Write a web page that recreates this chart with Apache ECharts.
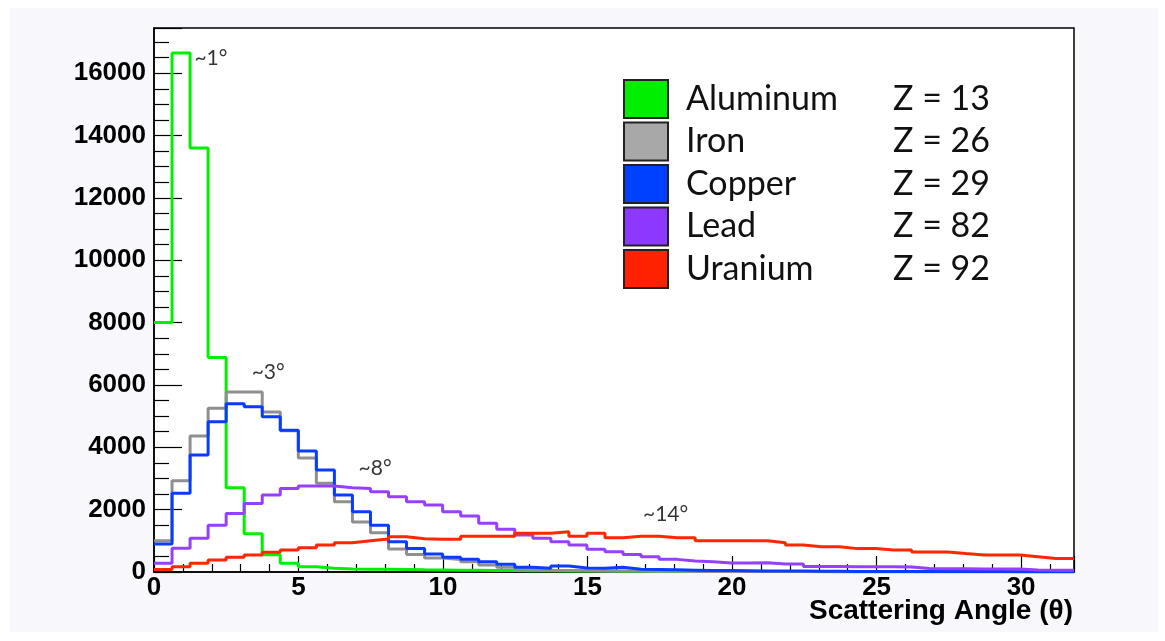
<!DOCTYPE html>
<html>
<head>
<meta charset="utf-8">
<script src="https://cdn.jsdelivr.net/npm/echarts@6/dist/echarts.min.js"></script>
<style>
html,body{margin:0;padding:0;background:#fff;}
#c{width:1165px;height:641px;}
</style>
</head>
<body>
<div id="c"></div>
<script>
// Histogram: 51 bins over 0 .. 31.83 degrees
const xMax = 31.83;
const nBins = 51;
const binWidth = xMax / nBins;

const seriesNames = ['Aluminum', 'Iron', 'Copper', 'Lead', 'Uranium'];
const zLabels = ['Z = 13', 'Z = 26', 'Z = 29', 'Z = 82', 'Z = 92'];
const lineColors = ['#00f000', '#8f8f8f', '#0a3cff', '#9640ff', '#ff2600'];
const swatchColors = ['#00ee00', '#a8a8a8', '#0040ff', '#8c38ff', '#ff2200'];
const xAxisTitle = 'Scattering Angle (θ)';

const aluminum = [8000,16650,13600,6880,2700,1230,550,280,170,120,95,90,85,80,70,65,60,55,50,45,40,40,35,30,30,25,25,20,20,20,20,15,15,15,15,15,10,10,10,10,10,10,10,10,8,8,8,8,8,8,8];
const iron = [1000,2930,4360,5250,5770,5770,5130,4530,3660,2850,2250,1600,1260,740,560,450,400,330,225,150,85,50,45,40,35,30,30,25,25,20,20,18,18,15,15,15,15,12,12,12,12,10,10,10,10,10,8,8,8,8,8];
const copper = [900,2530,3750,4820,5400,5300,4980,4550,3880,3270,2470,1930,1500,970,750,580,470,405,330,245,150,120,190,130,120,150,90,80,70,60,50,45,40,35,30,30,25,25,20,20,20,18,18,15,15,15,15,12,12,12,12];
const lead = [280,760,1080,1500,1880,2200,2470,2680,2760,2760,2700,2680,2575,2415,2250,2150,1930,1795,1560,1370,1190,1080,970,865,730,650,565,490,405,350,330,290,290,300,255,255,180,175,170,170,165,160,110,105,105,100,100,100,65,60,60];
const uranium = [80,170,280,385,470,545,630,705,780,865,940,1000,1060,1130,1070,1050,1050,1150,1150,1150,1240,1240,1290,1150,1240,1100,1150,1150,1100,1100,1000,1000,1000,1000,940,865,810,810,750,750,705,705,640,640,590,545,545,545,490,430,430];

const yTicks = {min: 0, max: 17450, interval: 2000};
const xTicks = {min: 0, max: xMax, interval: 5};

const annotations = [
  {text: '~1°', x: 1.97, y: 16470},
  {text: '~3°', x: 3.95, y: 6410},
  {text: '~8°', x: 7.65, y: 3330},
  {text: '~14°', x: 17.7, y: 1860}
];

const allSeries = [aluminum, iron, copper, lead, uranium];

function stepData(vals) {
  const pts = vals.map((v, i) => [i * binWidth, v]);
  pts.push([nBins * binWidth, vals[vals.length - 1]]);
  return pts;
}

const chart = echarts.init(document.getElementById('c'), null, {renderer: 'canvas'});

const series = seriesNames.map((name, i) => ({
  name: name,
  type: 'line',
  step: 'end',
  showSymbol: false,
  symbol: 'none',
  data: stepData(allSeries[i]),
  lineStyle: {color: lineColors[i], width: 3},
  itemStyle: {color: lineColors[i]},
  z: 2 + i
}));

series.push({
  name: 'annotations',
  type: 'scatter',
  symbolSize: 1,
  itemStyle: {color: 'rgba(0,0,0,0)'},
  data: annotations.map(a => ({value: [a.x, a.y], name: a.text})),
  label: {
    show: true,
    position: 'inside',
    formatter: p => p.name,
    fontFamily: 'Lato',
    fontSize: 21,
    color: '#000'
  },
  z: 10,
  silent: true
});

const legendRich = {
  n: {fontFamily: 'Lato', fontSize: 34, color: '#111', width: 207, padding: [0, 0, 0, 13], lineHeight: 38},
  z: {fontFamily: 'Lato', fontSize: 34, color: '#111', lineHeight: 38}
};

chart.setOption({
  animation: false,
  backgroundColor: '#ffffff',
  graphic: [{
    type: 'rect',
    shape: {x: 10, y: 8, width: 1148, height: 624},
    style: {fill: '#f8f8fc'},
    z: -10,
    silent: true
  }, {
    type: 'text',
    right: 92,
    top: 597,
    style: {text: xAxisTitle, fontFamily: 'Liberation Sans', fontWeight: 'bold', fontSize: 28, fill: '#000'},
    z: 5,
    silent: true
  }],
  grid: {
    left: 154, right: 91, top: 28, bottom: 69,
    containLabel: false,
    outerBoundsMode: 'none',
    show: true, backgroundColor: '#ffffff', borderColor: '#000', borderWidth: 1.5
  },
  legend: {
    orient: 'vertical',
    left: 623, top: 79,
    padding: 0,
    icon: 'rect',
    itemWidth: 44, itemHeight: 38, itemGap: 2.5,
    itemStyle: {borderColor: '#222', borderWidth: 2},
    data: seriesNames.map((n, i) => ({name: n, itemStyle: {color: swatchColors[i]}})),
    formatter: name => '{n|' + name + '}{z|' + zLabels[seriesNames.indexOf(name)] + '}',
    textStyle: {rich: legendRich, padding: 0},
    selectedMode: false
  },
  xAxis: {
    type: 'value',
    min: xTicks.min, max: xTicks.max, interval: xTicks.interval,
    axisLine: {show: true, onZero: false, lineStyle: {color: '#000', width: 1.5}},
    axisTick: {show: true, inside: true, length: 16, lineStyle: {color: '#000', width: 1.2}},
    minorTick: {show: true, splitNumber: 5, length: 8, lineStyle: {color: '#000', width: 1.2}},
    splitLine: {show: false},
    axisLabel: {fontFamily: 'Liberation Sans', fontWeight: 'bold', fontSize: 26, color: '#000', margin: 3, showMaxLabel: false}
  },
  yAxis: {
    type: 'value',
    min: yTicks.min, max: yTicks.max, interval: yTicks.interval,
    axisLine: {show: true, lineStyle: {color: '#000', width: 1.5}},
    axisTick: {show: true, inside: true, length: 28, lineStyle: {color: '#000', width: 1.2}},
    minorTick: {show: true, splitNumber: 4, length: 15, lineStyle: {color: '#000', width: 1.2}},
    splitLine: {show: false},
    axisLabel: {fontFamily: 'Liberation Sans', fontWeight: 'bold', fontSize: 26, color: '#000', margin: 8, showMaxLabel: false, formatter: v => String(v)}
  },
  series: series
});
</script>
</body>
</html>
